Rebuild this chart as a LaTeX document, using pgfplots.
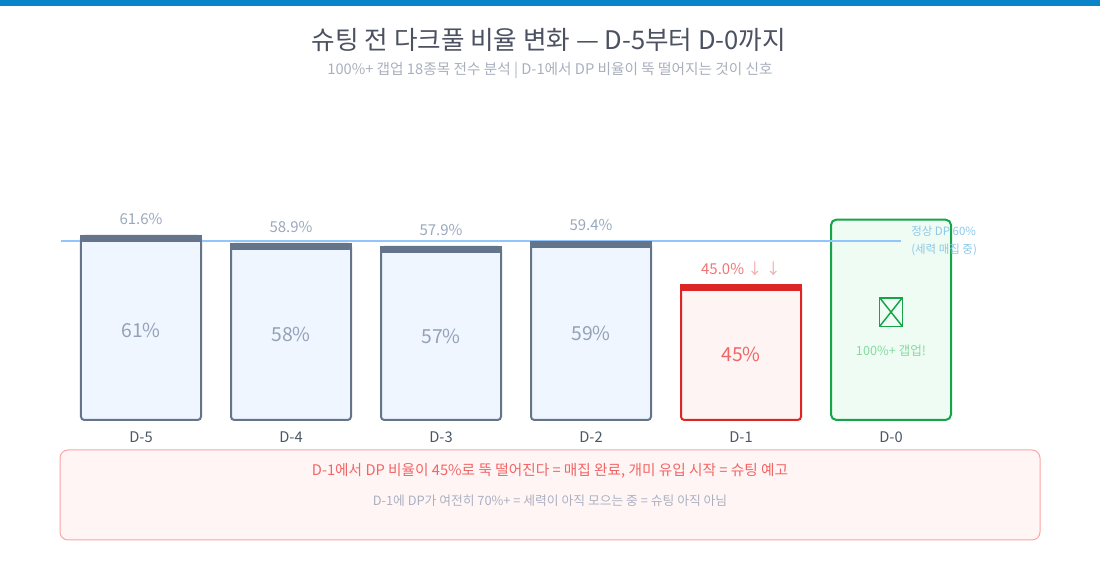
\documentclass[border=0pt]{standalone}
\usepackage{fontspec}
\usepackage{pgfplots}
\pgfplotsset{compat=1.18}
\setmainfont{Noto Sans CJK KR}
\definecolor{topblue}{HTML}{0A84C8}
\definecolor{titlec}{HTML}{4B5160}
\definecolor{subc}{HTML}{A8AFBC}
\definecolor{slate}{HTML}{64748B}
\definecolor{bodyfill}{HTML}{EFF6FF}
\definecolor{barred}{HTML}{DC2626}
\definecolor{redfill}{HTML}{FEF4F4}
\definecolor{bargreen}{HTML}{16A34A}
\definecolor{greenfill}{HTML}{EFFCF3}
\definecolor{labgrey}{HTML}{9AA8BC}
\definecolor{inlab}{HTML}{94A2B7}
\definecolor{redlab}{HTML}{F27474}
\definecolor{redarrow}{HTML}{F5A3A3}
\definecolor{redin}{HTML}{F26565}
\definecolor{refblue}{HTML}{93C5FD}
\definecolor{reflab}{HTML}{8CC8E8}
\definecolor{greenlab}{HTML}{86D9A1}
\definecolor{ticklab}{HTML}{4B5563}
\definecolor{boxfill}{HTML}{FFF5F5}
\definecolor{boxborder}{HTML}{FCA5A5}
\definecolor{boxred}{HTML}{F26565}
\definecolor{boxgrey}{HTML}{ABB0C1}
\pgfdeclareplotmark{capmark}{%
  \pgfpathrectangle{\pgfpoint{-45.75pt}{-4.5pt}}{\pgfpoint{91.5pt}{5.25pt}}%
  \pgfusepath{fill}}
\begin{document}
\begin{tikzpicture}[x=0.75pt,y=0.75pt]
\path[use as bounding box] (0,0) rectangle (1100,580);
\fill[topblue] (0,574) rectangle (1100,580);
\node[font=\fontsize{19.2}{23}\selectfont, text=titlec] at (549,540) {슈팅 전 다크풀 비율 변화 — D-5부터 D-0까지};
\node[font=\fontsize{11}{13}\selectfont, text=subc] at (550,510) {100\%+ 갭업 18종목 전수 분석 | D-1에서 DP 비율이 뚝 떨어지는 것이 신호};
\draw[boxborder, fill=boxfill, line width=0.75pt, rounded corners=6pt] (60,40) rectangle (1040,130);
\node[font=\fontsize{11}{13}\selectfont, text=boxred] at (550,109) {D-1에서 DP 비율이 45\%로 뚝 떨어진다 = 매집 완료, 개미 유입 시작 = 슈팅 예고};
\node[font=\fontsize{9.6}{11}\selectfont, text=boxgrey] at (550,79) {D-1에 DP가 여전히 70\%+ = 세력이 아직 모으는 중 = 슈팅 아직 아님};
\begin{axis}[
  at={(45.75pt,120pt)}, anchor=south west,
  x=112.5pt, y=2.2425pt,
  xmin=-0.533333, xmax=6, ymin=0, ymax=75,
  clip=false,
  hide y axis,
  axis x line*=bottom,
  axis line style={draw=none},
  major tick length=0pt,
  xtick={0,1,2,3,4,5},
  xticklabels={D-5,D-4,D-3,D-2,D-1,D-0},
  xticklabel style={font=\fontsize{11}{12}\selectfont, text=ticklab, yshift=-5.5pt},
]
\addplot[ybar, bar width=0.8, bar shift=0pt, draw=slate, line width=1.5pt, fill=bodyfill, rounded corners=2.5pt]
  coordinates {(0,61.6) (1,58.9) (2,57.9) (3,59.4)};
\addplot[ybar, bar width=0.8, bar shift=0pt, draw=barred, line width=1.5pt, fill=redfill, rounded corners=2.5pt]
  coordinates {(4,45.0)};
\addplot[ybar, bar width=0.8, bar shift=0pt, draw=bargreen, line width=1.5pt, fill=greenfill, rounded corners=4pt]
  coordinates {(5,67.0)};
\addplot[only marks, mark=capmark, color=slate, fill=slate] coordinates {(0,61.6) (1,58.9) (2,57.9) (3,59.4)};
\addplot[only marks, mark=capmark, color=barred, fill=barred] coordinates {(4,45.0)};
\addplot[refblue, line width=1.5pt, mark=none] coordinates {(-0.533333,60) (5.066667,60)};
% top labels
\addplot[draw=none, mark=none, nodes near coords, point meta=explicit symbolic,
  nodes near coords style={font=\fontsize{11.25}{13}\selectfont, text=labgrey, anchor=center}]
  coordinates {(0,67.3)[61.6\%] (1,64.6)[58.9\%] (2,63.6)[57.9\%] (3,65.1)[59.4\%]};
\addplot[draw=none, mark=none, nodes near coords, point meta=explicit symbolic,
  nodes near coords style={font=\fontsize{11.25}{13}\selectfont, text=redlab, anchor=center}]
  coordinates {(4,50.7)[45.0\% \textcolor{redarrow}{↓ ↓}]};
% inside labels
\addplot[draw=none, mark=none, nodes near coords, point meta=explicit symbolic,
  nodes near coords style={font=\fontsize{14.5}{16}\selectfont, text=inlab, anchor=center}]
  coordinates {(0,30.0)[61\%] (1,28.6)[58\%] (2,28.1)[57\%] (3,28.9)[59\%]};
\addplot[draw=none, mark=none, nodes near coords, point meta=explicit symbolic,
  nodes near coords style={font=\fontsize{14.5}{16}\selectfont, text=redin, anchor=center}]
  coordinates {(4,21.8)[45\%]};
\addplot[draw=none, mark=none, nodes near coords, point meta=explicit symbolic,
  nodes near coords style={font=\fontsize{9.5}{11}\selectfont, text=greenlab, anchor=center}]
  coordinates {(5,23.1)[100\%+ 갭업!]};
\node[draw=bargreen, line width=1.2pt, minimum width=17pt, minimum height=21.5pt, inner sep=0pt,
  path picture={\draw[bargreen, line width=1.1pt] (path picture bounding box.south west) -- (path picture bounding box.north east)
   (path picture bounding box.north west) -- (path picture bounding box.south east);}]
  at (axis cs:5,36.1) {};
\node[anchor=west, align=left, font=\fontsize{8.6}{13.5}\selectfont, text=reflab, inner sep=0pt]
  at (axis cs:5.1333,60) {정상 DP 60\%\\(세력 매집 중)};
\end{axis}
\end{tikzpicture}
\end{document}
